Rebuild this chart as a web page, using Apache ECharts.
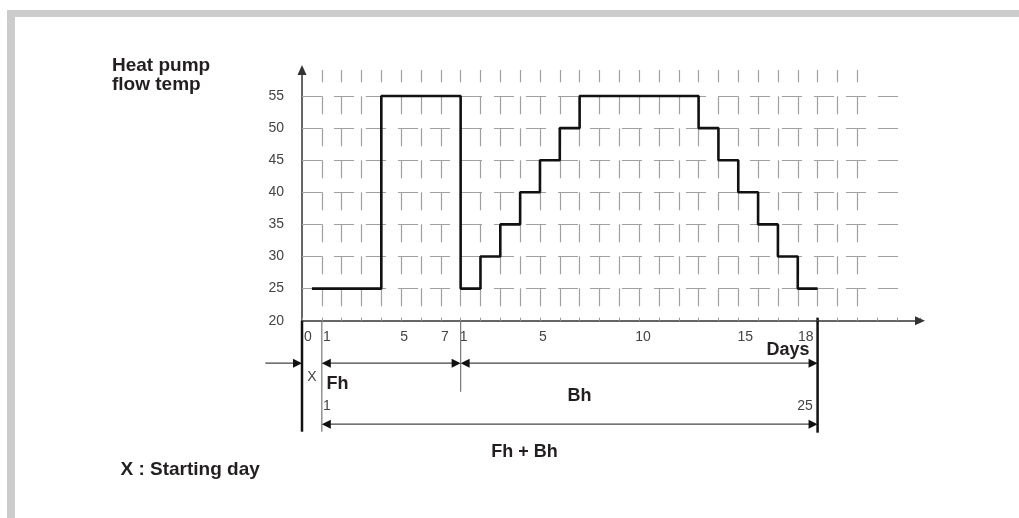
<!DOCTYPE html>
<html>
<head>
<meta charset="utf-8">
<script src="https://cdn.jsdelivr.net/npm/echarts@6/dist/echarts.min.js"></script>
<style>
html,body{margin:0;padding:0;background:#ffffff;}
#chart{width:1019px;height:518px;}
</style>
</head>
<body>
<div id="chart"></div>
<script>
// ---------------- data ----------------
// flow temperature programme: value held from each change day until the next
const changeDays  = [0.5, 4, 8, 9, 10, 11, 12, 13, 14, 20, 21, 22, 23, 24, 25, 26];
const changeTemps = [25, 55, 25, 30, 35, 40, 45, 50, 55, 50, 45, 40, 35, 30, 25, 25];

// axis tick labels
const tempTicks    = [20, 25, 30, 35, 40, 45, 50, 55];
const gridTemps    = [25, 30, 35, 40, 45, 50, 55];
const gridDays     = [1, 2, 3, 4, 5, 6, 7, 8, 9, 10, 11, 12, 13, 14, 15, 16, 17, 18, 19, 20, 21, 22, 23, 24, 25, 26, 27, 28];
const dayLabelAt   = [0.3, 1.25, 5.15, 7.2, 8.15, 12.15, 17.2, 22.35, 25.4];
const dayLabelText = ['0', '1', '5', '7', '1', '5', '10', '15', '18'];

// phases (in days on the same axis): X = starting day, Fh, Bh
const startDay = 0;
const fhStart  = 1;
const bhStart  = 8;
const endDay   = 26;
const spanFrom = [fhStart, bhStart, fhStart];
const spanTo   = [bhStart, endDay, endDay];

// ---------------- layout ----------------
const GRID_LEFT = 302, GRID_RIGHT_EDGE = 920, GRID_TOP = 70, AXIS_Y = 320.7;
const PX_PER_DAY = 19.83, PX_PER_DEG = 6.42;
const X_MAX = (GRID_RIGHT_EDGE - GRID_LEFT) / PX_PER_DAY;
const Y_MIN = 20;
const Y_MAX = Y_MIN + (AXIS_Y - GRID_TOP) / PX_PER_DEG;
const H_GRID_END = 30.5;

const labelMap = {};
dayLabelAt.forEach((d, i) => { labelMap[Math.round(d * 20)] = dayLabelText[i]; });

const BOLD = 'bold 18px "Liberation Sans", Arial, sans-serif';
const BOLD_L = 'bold 19px "Liberation Sans", Arial, sans-serif';
const REG = '14px "Liberation Sans", Arial, sans-serif';
const DARK = '#231f20';
const GREY_TXT = '#444444';

const chart = echarts.init(document.getElementById('chart'), null, {renderer: 'canvas'});

function renderAnnot(params, api) {
  const X = d => api.coord([d, Y_MIN])[0];
  const y0 = api.coord([0, Y_MIN])[1];
  const row1 = y0 + 42.5, row2 = y0 + 103.5, low = y0 + 111;
  const ch = [];
  const line = (x1, y1, x2, y2, stroke, w) => ch.push({
    type: 'line', shape: {x1, y1, x2, y2}, style: {stroke, lineWidth: w}
  });
  const head = (x, y, dir) => ch.push({
    type: 'polygon',
    shape: {points: [[x, y], [x - dir * 9, y - 4.5], [x - dir * 9, y + 4.5]]},
    style: {fill: '#111111'}
  });
  // dividers below the day axis
  line(X(startDay), y0, X(startDay), low, '#111111', 2.5);
  line(X(fhStart), y0, X(fhStart), low, '#777777', 1.2);
  line(X(bhStart), y0, X(bhStart), y0 + 71, '#777777', 1.2);
  line(X(endDay), y0 - 3, X(endDay), low + 1, '#111111', 2.5);
  // lead arrow pointing at the starting day
  line(X(startDay - 1.85), row1, X(startDay) - 4, row1, '#444444', 1.3);
  head(X(startDay), row1, 1);
  // span arrows
  spanFrom.forEach((a, i) => {
    const b = spanTo[i];
    const y = i < 2 ? row1 : row2;
    line(X(a) + 4, y, X(b) - 4, y, '#444444', 1.3);
    head(X(a), y, -1);
    head(X(b), y, 1);
  });
  return {type: 'group', children: ch};
}

const txt = (x, y, text, font, fill, align) => ({
  type: 'text', x, y, silent: true, z: 10,
  style: {text, font, fill, textAlign: align, textVerticalAlign: 'middle'}
});

const option = {
  animation: false,
  backgroundColor: '#ffffff',
  grid: {left: GRID_LEFT, top: GRID_TOP, width: GRID_RIGHT_EDGE - GRID_LEFT, height: AXIS_Y - GRID_TOP, containLabel: false},
  xAxis: [
    {
      type: 'value', min: 0, max: X_MAX, interval: 0.05, position: 'bottom',
      axisLine: {show: true, onZero: false, symbol: ['none', 'triangle'], symbolSize: [9, 10],
                 lineStyle: {color: '#333333', width: 1.5}},
      axisTick: {show: false},
      splitLine: {show: false},
      axisLabel: {
        show: true, margin: 9, fontSize: 14, color: GREY_TXT,
        fontFamily: '"Liberation Sans", Arial, sans-serif',
        showMinLabel: true, showMaxLabel: true,
        formatter: v => labelMap[Math.round(v * 20)] || ''
      }
    },
    {
      type: 'value', min: 0, max: X_MAX, interval: 1, position: 'bottom',
      axisLine: {show: false, onZero: false},
      axisTick: {show: true, inside: true, length: 3, lineStyle: {color: '#999999', width: 1}},
      splitLine: {show: false},
      axisLabel: {show: false}
    }
  ],
  yAxis: {
    type: 'value', min: Y_MIN, max: Y_MAX, interval: 5,
    axisLine: {show: true, onZero: false, symbol: ['none', 'triangle'], symbolSize: [9, 10],
               lineStyle: {color: '#333333', width: 1.5}},
    axisTick: {show: false},
    splitLine: {show: false},
    axisLabel: {
      margin: 18, fontSize: 14, color: GREY_TXT,
      fontFamily: '"Liberation Sans", Arial, sans-serif',
      formatter: v => tempTicks.indexOf(v) >= 0 ? String(v) : ''
    }
  },
  series: [
    {
      name: 'vgrid', type: 'line', data: [], silent: true, z: 1,
      markLine: {
        silent: true, symbol: ['none', 'none'], label: {show: false},
        lineStyle: {color: '#a0a0a0', width: 1.2, type: [18, 14], dashOffset: 5.7},
        emphasis: {disabled: true},
        data: gridDays.map(d => [{coord: [d, Y_MAX - 0.001]}, {coord: [d, Y_MIN]}])
      }
    },
    {
      name: 'hgrid', type: 'line', data: [], silent: true, z: 1,
      markLine: {
        silent: true, symbol: ['none', 'none'], label: {show: false},
        lineStyle: {color: '#a0a0a0', width: 1.2, type: [20, 12]},
        emphasis: {disabled: true},
        data: gridTemps.map(t => [{coord: [0, t]}, {coord: [H_GRID_END, t]}])
      }
    },
    {
      name: 'Heat pump flow temp', type: 'line', step: 'end', z: 5,
      symbol: 'none', silent: true,
      lineStyle: {color: '#111111', width: 2.6},
      data: changeDays.map((d, i) => [d, changeTemps[i]])
    },
    {
      name: 'phases', type: 'custom', silent: true, z: 4, clip: false,
      renderItem: renderAnnot,
      encode: {x: 0, y: 1},
      data: [[startDay, Y_MIN]]
    }
  ],
  graphic: [
    {type: 'rect', silent: true, shape: {x: 7, y: 10, width: 1012, height: 7}, style: {fill: '#cccccc'}},
    {type: 'rect', silent: true, shape: {x: 7, y: 10, width: 8, height: 508}, style: {fill: '#cccccc'}},
    txt(112, 66, 'Heat pump', BOLD_L, DARK, 'left'),
    txt(112, 85, 'flow temp', BOLD_L, DARK, 'left'),
    txt(788, 350, 'Days', BOLD, DARK, 'center'),
    txt(312, 377, 'X', REG, GREY_TXT, 'center'),
    txt(326.5, 384, 'Fh', BOLD, DARK, 'left'),
    txt(327, 406, '1', REG, GREY_TXT, 'center'),
    txt(579.5, 396, 'Bh', BOLD, DARK, 'center'),
    txt(805, 406, '25', REG, GREY_TXT, 'center'),
    txt(524.5, 452, 'Fh + Bh', BOLD, DARK, 'center'),
    txt(120.5, 470, 'X : Starting day', BOLD_L, DARK, 'left')
  ]
};

chart.setOption(option);
</script>
</body>
</html>
